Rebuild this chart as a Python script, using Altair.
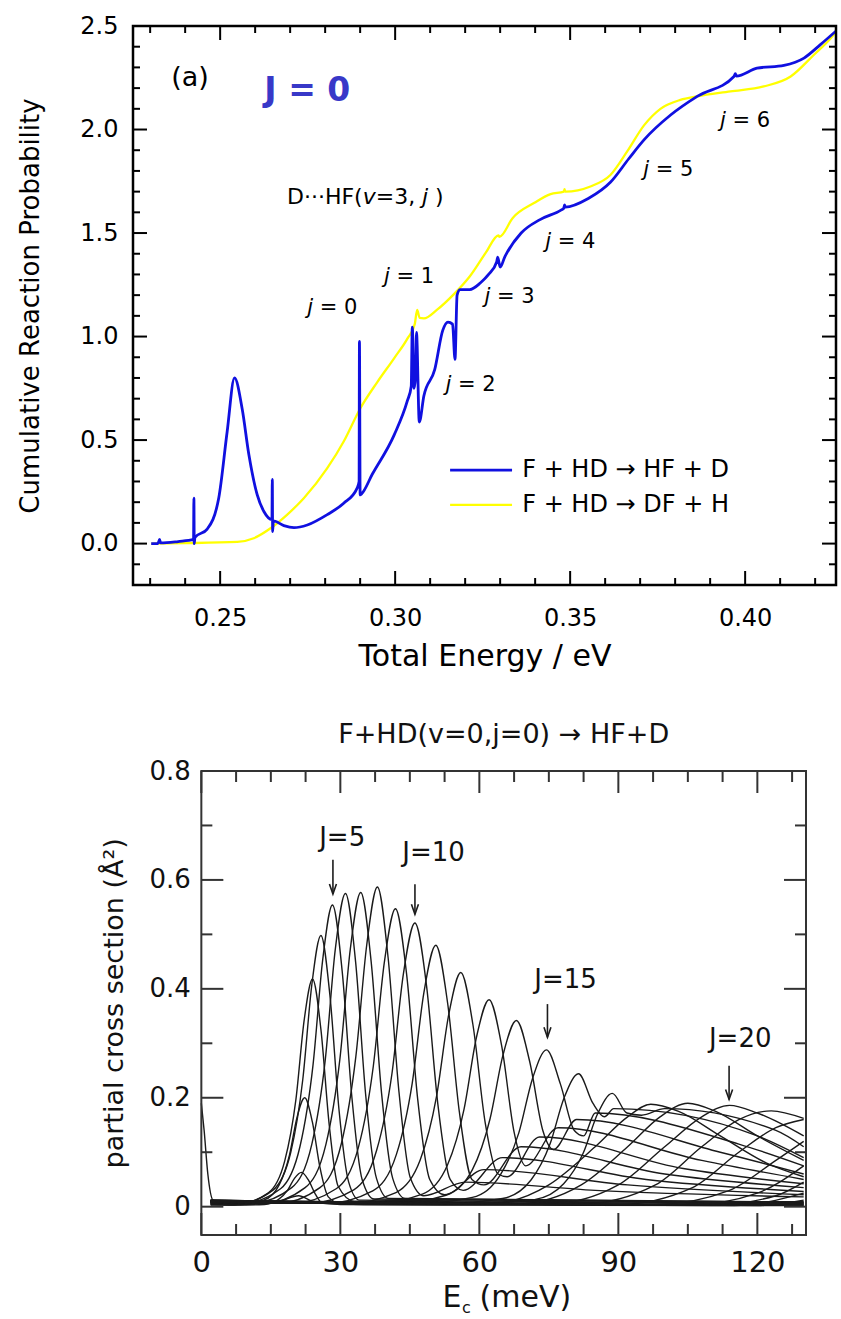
import altair as alt
import pandas as pd

FONT = "DejaVu Sans"

# ---------------- Panel (a): cumulative reaction probability, J = 0 ----------------
blue_E = [0.2303, 0.2322, 0.2327, 0.2330, 0.2380, 0.2424, 0.2425, 0.2426, 0.2428, 0.2463,
          0.2496, 0.2520, 0.2541, 0.2563, 0.2582, 0.2606, 0.2625, 0.2648, 0.2649, 0.2650,
          0.2652, 0.2682, 0.2711, 0.2749, 0.2806, 0.2853, 0.2891, 0.2897, 0.2898, 0.2900,
          0.2904, 0.2935, 0.2997, 0.3035, 0.3046, 0.3049, 0.3054, 0.3058, 0.3061, 0.3069,
          0.3082, 0.3113, 0.3136, 0.3151, 0.3164, 0.3171, 0.3177, 0.3185, 0.3213, 0.3244,
          0.3267, 0.3290, 0.3293, 0.3300, 0.3313, 0.3360, 0.3414, 0.3475, 0.3482, 0.3484,
          0.3486, 0.3553, 0.3615, 0.3668, 0.3711, 0.3787, 0.3863, 0.3968, 0.3972, 0.3975,
          0.4034, 0.4111, 0.4168, 0.4215, 0.4259]
blue_P = [0.0, 0.0, 0.02, 0.003, 0.01, 0.02, 0.22, 0.0, 0.03, 0.07,
          0.22, 0.54, 0.80, 0.65, 0.43, 0.235, 0.155, 0.116, 0.31, 0.058,
          0.11, 0.087, 0.077, 0.09, 0.14, 0.195, 0.267, 0.30, 0.976, 0.235,
          0.24, 0.336, 0.524, 0.69, 0.76, 1.045, 0.75, 0.80, 1.02, 0.587,
          0.713, 0.84, 1.03, 1.07, 1.06, 0.89, 1.20, 1.227, 1.227, 1.26,
          1.30, 1.36, 1.384, 1.335, 1.384, 1.50, 1.565, 1.612, 1.62, 1.636,
          1.625, 1.668, 1.745, 1.86, 1.95, 2.07, 2.16, 2.256, 2.27, 2.258,
          2.296, 2.31, 2.345, 2.41, 2.475]

yellow_E = [0.2303, 0.2400, 0.2549, 0.2596, 0.2644, 0.2691, 0.2739, 0.2806, 0.2853, 0.2901,
            0.2949, 0.2997, 0.3035, 0.3056, 0.3063, 0.3070, 0.3082, 0.3120, 0.3168, 0.3213,
            0.3259, 0.3295, 0.3298, 0.3336, 0.3398, 0.3444, 0.3482, 0.3484, 0.3486, 0.3558,
            0.3615, 0.3663, 0.3711, 0.3758, 0.3815, 0.3863, 0.3958, 0.4053, 0.4130, 0.4196,
            0.4244, 0.4259]
yellow_P = [0.0, 0.002, 0.008, 0.026, 0.074, 0.139, 0.219, 0.364, 0.493, 0.655,
            0.78, 0.895, 0.99, 1.06, 1.129, 1.09, 1.088, 1.13, 1.205, 1.29,
            1.405, 1.488, 1.482, 1.573, 1.646, 1.688, 1.70, 1.712, 1.70, 1.725,
            1.78, 1.894, 2.02, 2.10, 2.143, 2.16, 2.184, 2.208, 2.256, 2.36,
            2.44, 2.47]

legend_labels = ["F + HD \u2192 HF + D", "F + HD \u2192 DF + H"]
legend_colors = ["#1010e0", "#ffff00"]

j_label_x = [0.2749, 0.2968, 0.3144, 0.3255, 0.3429, 0.3709, 0.3928]
j_label_y = [1.137, 1.290, 0.767, 1.193, 1.459, 1.805, 2.039]
j_label_n = ["= 0", "= 1", "= 2", "= 3", "= 4", "= 5", "= 6"]

top_x_major = [0.25, 0.30, 0.35, 0.40]
top_x_minor = [0.23, 0.24, 0.26, 0.27, 0.28, 0.29, 0.31, 0.32, 0.33, 0.34,
               0.36, 0.37, 0.38, 0.39, 0.41, 0.42]
top_y_major = [0.0, 0.5, 1.0, 1.5, 2.0, 2.5]
top_y_minor = [-0.1, 0.1, 0.2, 0.3, 0.4, 0.6, 0.7, 0.8, 0.9, 1.1, 1.2, 1.3, 1.4,
               1.6, 1.7, 1.8, 1.9, 2.1, 2.2, 2.3, 2.4]

# ---------------- Panel (b): partial cross sections for each J ----------------
pcs_J0 = [(0.0, 0.19), (0.6, 0.14), (1.4, 0.06), (2.5, 0.012), (5, 0.004), (12, 0.005),
          (17, 0.01), (21, 0.02), (24, 0.01), (30, 0.004), (60, 0.003), (130, 0.002)]
pcs_J1 = [(2, 0.003), (7.6, 0.003), (13.6, 0.004), (16.6, 0.013), (18.6, 0.03), (20.1, 0.052),
          (21.6, 0.063), (23.1, 0.049), (24.6, 0.023), (26.2, 0.006), (35, 0.004), (130, 0.003)]
pcs_J2 = [(2, 0.005), (7.0, 0.003), (13.5, 0.012), (16.8, 0.04), (19.0, 0.094), (20.65, 0.164),
          (22.3, 0.20), (23.95, 0.156), (25.6, 0.072), (27.4, 0.018), (30, 0.006), (130, 0.004)]
pcs_J3 = [(2, 0.004), (7.2, 0.004), (14.4, 0.025), (18.0, 0.084), (20.4, 0.196), (22.2, 0.343),
          (24.0, 0.418), (25.8, 0.326), (27.6, 0.15), (29.5, 0.038), (33, 0.01), (130, 0.005)]
pcs_J4 = [(2, 0.006), (7.6, 0.005), (15.4, 0.03), (19.3, 0.10), (21.9, 0.234), (23.85, 0.408),
          (25.8, 0.498), (27.75, 0.388), (29.7, 0.179), (31.8, 0.045), (34.1, 0.012), (130, 0.006)]
pcs_J5 = [(2, 0.008), (8.7, 0.006), (17.1, 0.033), (21.3, 0.111), (24.1, 0.26), (26.2, 0.454),
          (28.3, 0.554), (30.4, 0.432), (32.5, 0.2), (34.7, 0.05), (37.3, 0.014), (130, 0.007)]
pcs_J6 = [(2, 0.005), (10.8, 0.006), (19.5, 0.035), (23.85, 0.115), (26.75, 0.27), (28.9, 0.472),
          (31.1, 0.575), (33.3, 0.449), (35.45, 0.207), (37.8, 0.052), (40.4, 0.015), (130, 0.008)]
pcs_J7 = [(2, 0.007), (13.4, 0.006), (22.4, 0.035), (26.9, 0.115), (29.9, 0.271), (32.15, 0.473),
          (34.4, 0.577), (36.65, 0.45), (38.9, 0.208), (41.3, 0.052), (44.0, 0.015), (130, 0.009)]
pcs_J8 = [(2, 0.009), (16.3, 0.006), (25.6, 0.035), (30.25, 0.117), (33.35, 0.276), (35.7, 0.481),
          (38.0, 0.587), (40.3, 0.458), (42.65, 0.211), (45.1, 0.053), (48.0, 0.02), (57, 0.045),
          (85, 0.03), (130, 0.018)]
pcs_J9 = [(2, 0.006), (19.5, 0.006), (29.1, 0.033), (33.9, 0.109), (37.1, 0.257), (39.5, 0.449),
          (41.9, 0.547), (44.3, 0.427), (46.7, 0.197), (49.3, 0.05), (52.5, 0.022), (61, 0.068),
          (92, 0.04), (130, 0.022)]
pcs_J10 = [(2, 0.01), (23.0, 0.006), (32.9, 0.031), (37.85, 0.104), (41.15, 0.245), (43.6, 0.427),
           (46.1, 0.521), (48.6, 0.406), (51.05, 0.188), (53.7, 0.05), (56.5, 0.03), (65, 0.09),
           (96, 0.05), (130, 0.028)]
pcs_J11 = [(2, 0.008), (26.8, 0.006), (37.0, 0.029), (42.1, 0.096), (45.5, 0.226), (48.05, 0.394),
           (50.6, 0.48), (53.15, 0.374), (55.7, 0.173), (58.4, 0.05), (61, 0.04), (69, 0.11),
           (100, 0.06), (130, 0.035)]
pcs_J12 = [(2, 0.011), (31.5, 0.006), (42.0, 0.026), (47.25, 0.086), (50.75, 0.202), (53.4, 0.353),
           (56.0, 0.43), (58.6, 0.335), (61.25, 0.155), (64.05, 0.06), (66, 0.055), (73, 0.128),
           (104, 0.07), (130, 0.042)]
pcs_J13 = [(2, 0.007), (36.9, 0.006), (47.7, 0.023), (53.1, 0.076), (56.7, 0.179), (59.4, 0.312),
           (62.1, 0.38), (64.8, 0.296), (67.5, 0.137), (70.0, 0.075), (77, 0.145), (108, 0.085),
           (130, 0.05)]
pcs_J14 = [(2, 0.012), (41.4, 0.006), (52.8, 0.021), (58.5, 0.068), (62.3, 0.161), (65.15, 0.28),
           (68.0, 0.342), (70.85, 0.267), (73.7, 0.14), (76.0, 0.105), (81, 0.16), (112, 0.1),
           (130, 0.06)]
pcs_J15 = [(2, 0.009), (46.5, 0.006), (58.5, 0.017), (64.5, 0.058), (68.5, 0.135), (71.5, 0.236),
           (74.5, 0.288), (77.5, 0.225), (80.5, 0.14), (82.5, 0.13), (85, 0.172), (116, 0.115),
           (130, 0.075)]
pcs_J16 = [(2, 0.01), (52.7, 0.006), (65.0, 0.015), (71.15, 0.049), (75.25, 0.115), (78.3, 0.2),
           (81.4, 0.244), (84.5, 0.19), (87.0, 0.165), (89, 0.18), (120, 0.13), (130, 0.09)]
pcs_J17 = [(2, 0.008), (59.3, 0.006), (71.9, 0.013), (78.2, 0.042), (82.4, 0.098), (85.55, 0.171),
           (88.7, 0.208), (91.85, 0.172), (95, 0.168), (100, 0.18), (124, 0.14), (130, 0.11)]
pcs_J18 = [(2, 0.011), (62, 0.005), (75, 0.04), (85, 0.11), (92, 0.165), (97, 0.188),
           (103, 0.175), (112, 0.13), (122, 0.08), (130, 0.055)]
pcs_J19 = [(2, 0.012), (68, 0.005), (82, 0.04), (92, 0.11), (99, 0.165), (105, 0.19),
           (111, 0.175), (120, 0.13), (130, 0.085)]
pcs_J20 = [(2, 0.009), (75, 0.005), (90, 0.04), (100, 0.11), (108, 0.165), (114, 0.186),
           (120, 0.172), (130, 0.13)]
pcs_J21 = [(2, 0.01), (82, 0.005), (98, 0.04), (108, 0.11), (116, 0.16), (123, 0.176),
           (130, 0.162)]
pcs_J22 = [(2, 0.012), (90, 0.004), (106, 0.035), (116, 0.1), (124, 0.145), (130, 0.16)]
pcs_J23 = [(2, 0.011), (98, 0.004), (114, 0.03), (124, 0.085), (130, 0.12)]
pcs_J24 = [(2, 0.008), (105, 0.003), (120, 0.025), (130, 0.075)]
pcs_J25 = [(2, 0.01), (110, 0.003), (124, 0.02), (130, 0.045)]
pcs_J26 = [(2, 0.012), (115, 0.002), (130, 0.025)]
pcs_J27 = [(2, 0.009), (120, 0.002), (130, 0.012)]

pcs_curves = [pcs_J0, pcs_J1, pcs_J2, pcs_J3, pcs_J4, pcs_J5, pcs_J6, pcs_J7, pcs_J8, pcs_J9,
              pcs_J10, pcs_J11, pcs_J12, pcs_J13, pcs_J14, pcs_J15, pcs_J16, pcs_J17, pcs_J18,
              pcs_J19, pcs_J20, pcs_J21, pcs_J22, pcs_J23, pcs_J24, pcs_J25, pcs_J26, pcs_J27]

arrow_labels = ["J=5", "J=10", "J=15", "J=20"]
arrow_label_x = [30.4, 50.1, 78.6, 116.3]
arrow_label_y = [0.677, 0.650, 0.416, 0.307]
arrow_x = [28.4, 46.1, 74.7, 113.9]
arrow_top = [0.637, 0.592, 0.372, 0.259]
arrow_tip = [0.574, 0.537, 0.311, 0.197]

bot_x_major = [0, 30, 60, 90, 120]
bot_x_minor = [7.5, 15, 22.5, 37.5, 45, 52.5, 67.5, 75, 82.5, 97.5, 105, 112.5, 127.5]
bot_y_major = [0.0, 0.2, 0.4, 0.6, 0.8]
bot_y_minor = [0.1, 0.3, 0.5, 0.7]


# ---------------- helpers ----------------
def make_xy(xscale, yscale, xaxis, yaxis):
    def qx(field):
        return alt.X(field, type="quantitative", scale=xscale, axis=xaxis)

    def qy(field):
        return alt.Y(field, type="quantitative", scale=yscale, axis=yaxis)
    return qx, qy


def tick_layers(qx, qy, W, H, xl, xmaj, xmin, ymaj, ymin, lmaj, lmin, color, sw):
    out = []
    for vals, L in ((xmaj, lmaj), (xmin, lmin)):
        b = alt.Chart(pd.DataFrame({"v": vals})).mark_rule(color=color, strokeWidth=sw)
        out.append(b.encode(x=qx("v"), y=alt.value(H - L), y2=alt.value(H)))
        out.append(b.encode(x=qx("v"), y=alt.value(0), y2=alt.value(L)))
    for vals, L in ((ymaj, lmaj), (ymin, lmin)):
        b = alt.Chart(pd.DataFrame({"v": vals})).mark_rule(color=color, strokeWidth=sw)
        out.append(b.encode(y=qy("v"), x=alt.value(xl), x2=alt.value(xl + L)))
        out.append(b.encode(y=qy("v"), x=alt.value(W - L), x2=alt.value(W)))
    return out


def text_layer(qx, qy, x, y, t, **kw):
    df = pd.DataFrame({"x": x, "y": y, "t": t})
    return alt.Chart(df).mark_text(font=FONT, **kw).encode(x=qx("x"), y=qy("y"), text="t:N")


# ---------------- top panel ----------------
TW, TH = 703, 559
TXD = [0.2251, 0.42596]
TYD = [-0.2, 2.5]
tx = alt.Scale(domain=TXD, nice=False, zero=False)
ty = alt.Scale(domain=TYD, nice=False, zero=False)

top_x_axis = alt.Axis(values=top_x_major, format=".2f", title="Total Energy / eV",
                      labelFont=FONT, labelFontSize=24, labelColor="black", labelPadding=21,
                      ticks=False, tickSize=0, domain=False, grid=False,
                      titleFont=FONT, titleFontSize=30, titleFontWeight="normal",
                      titleColor="black", titlePadding=11)
top_y_axis = alt.Axis(values=top_y_major, format=".1f", title="Cumulative Reaction Probability",
                      labelFont=FONT, labelFontSize=24, labelColor="black", labelPadding=15,
                      ticks=False, tickSize=0, domain=False, grid=False,
                      titleFont=FONT, titleFontSize=26, titleFontWeight="normal",
                      titleColor="black", titlePadding=36)
tqx, tqy = make_xy(tx, ty, top_x_axis, top_y_axis)

yellow_df = pd.DataFrame({"E": yellow_E, "P": yellow_P})
blue_df = pd.DataFrame({"E": blue_E, "P": blue_P})

yellow_line = alt.Chart(yellow_df).mark_line(
    color=legend_colors[1], strokeWidth=2.3, interpolate="monotone", clip=True).encode(
    x=tqx("E"), y=tqy("P"))
blue_line = alt.Chart(blue_df).mark_line(
    color=legend_colors[0], strokeWidth=2.8, interpolate="monotone", clip=True).encode(
    x=tqx("E"), y=tqy("P"))

top_frame = alt.Chart(pd.DataFrame({"x1": [TXD[0]], "x2": [TXD[1]], "y1": [TYD[0]], "y2": [TYD[1]]})
                      ).mark_rect(filled=False, color="black", strokeWidth=2.5).encode(
    x=tqx("x1"), x2="x2", y=tqy("y1"), y2="y2")

top_ticks = tick_layers(tqx, tqy, TW, TH, 0, top_x_major, top_x_minor, top_y_major, top_y_minor,
                        14, 7, "black", 2)

t_a = text_layer(tqx, tqy, [0.2414], [2.25], ["(a)"], fontSize=27, align="center",
                 baseline="middle")
t_J0 = text_layer(tqx, tqy, [0.2749], [2.188], ["J = 0"], fontSize=33, fontWeight="bold",
                  color="#3838c8", align="center", baseline="middle")

dhf_pieces = [("D\u00b7\u00b7\u00b7HF(", "normal", 0.0), ("v", "italic", 75.7),
              ("=3,", "normal", 88.7), ("j", "italic", 135.1), (")", "normal", 148.0)]
dhf_layers = [text_layer(tqx, tqy, [0.2691], [1.676], [s], fontSize=22, fontStyle=st, dx=off,
                         align="left", baseline="middle") for s, st, off in dhf_pieces]

jdf = pd.DataFrame({"x": j_label_x, "y": j_label_y, "t": j_label_n})
j_italic = alt.Chart(jdf).mark_text(font=FONT, fontSize=21, fontStyle="italic", align="left",
                                    baseline="middle").encode(
    x=tqx("x"), y=tqy("y"), text=alt.value("j"))
j_rest = alt.Chart(jdf).mark_text(font=FONT, fontSize=21, align="left", baseline="middle",
                                  dx=12.5).encode(x=tqx("x"), y=tqy("y"), text="t:N")

leg_df = pd.DataFrame({"x1": [0.3157, 0.3157], "x2": [0.3334, 0.3334], "y": [0.355, 0.187],
                       "xt": [0.3363, 0.3363], "t": legend_labels, "c": legend_colors,
                       "w": [2.8, 2.3]})
leg_rules = alt.Chart(leg_df).mark_rule().encode(
    x=tqx("x1"), x2="x2", y=tqy("y"),
    color=alt.Color("c:N", scale=None), strokeWidth=alt.StrokeWidth("w:Q", scale=None))
leg_text = alt.Chart(leg_df).mark_text(font=FONT, fontSize=24, align="left", baseline="middle"
                                       ).encode(x=tqx("xt"), y=tqy("y"), text="t:N")

top_chart = alt.layer(yellow_line, blue_line, top_frame, *top_ticks, t_a, t_J0, *dhf_layers,
                      j_italic, j_rest, leg_rules, leg_text).properties(width=TW, height=TH)

# ---------------- bottom panel ----------------
BW, BH = 673, 464
BXD = [-14.75, 130.5]
BYD = [-0.052, 0.8]
bx = alt.Scale(domain=BXD, nice=False, zero=False)
by = alt.Scale(domain=BYD, nice=False, zero=False)
X0PX = 14.75 * BW / (BXD[1] - BXD[0])  # pixel of E = 0 inside the plot

rows = [{"J": j, "E": e, "s": s} for j, c in enumerate(pcs_curves) for e, s in c]
pcs_df = pd.DataFrame(rows)

bot_x_axis = alt.Axis(values=bot_x_major, format="d", title=None, labelFont=FONT,
                      labelFontSize=29, labelColor="#111111", labelPadding=13,
                      ticks=False, tickSize=0, domain=False, grid=False)
bot_y_axis = alt.Axis(values=bot_y_major, format=".1~f", title=None, labelFont=FONT,
                      labelFontSize=26, labelColor="#111111", labelPadding=11, offset=-X0PX,
                      ticks=False, tickSize=0, domain=False, grid=False)
bqx, bqy = make_xy(bx, by, bot_x_axis, bot_y_axis)

pcs_lines = alt.Chart(pcs_df).mark_line(color="#1a1a1a", strokeWidth=1.4,
                                        interpolate="monotone", clip=True).encode(
    x=bqx("E"), y=bqy("s"), detail="J:N")

bot_frame = alt.Chart(pd.DataFrame({"x1": [0.0], "x2": [BXD[1]], "y1": [BYD[0]], "y2": [BYD[1]]})
                      ).mark_rect(filled=False, color="#333333", strokeWidth=2).encode(
    x=bqx("x1"), x2="x2", y=bqy("y1"), y2="y2")

bot_ticks = tick_layers(bqx, bqy, BW, BH, X0PX, bot_x_major, bot_x_minor, bot_y_major,
                        bot_y_minor, 22, 11, "#333333", 2)

arr_df = pd.DataFrame({"x": arrow_x, "y1": arrow_top, "y2": arrow_tip,
                       "lx": arrow_label_x, "ly": arrow_label_y, "t": arrow_labels})
arr_rules = alt.Chart(arr_df).mark_rule(color="#1c1c1c", strokeWidth=1.6).encode(
    x=bqx("x"), y=bqy("y1"), y2="y2")
arr_heads = alt.Chart(arr_df).mark_point(shape="M-0.35,-1L0,0L0.35,-1", filled=False,
                                         color="#1c1c1c", strokeWidth=1.6, size=400,
                                         opacity=1).encode(x=bqx("x"), y=bqy("y2"))
arr_text = alt.Chart(arr_df).mark_text(font=FONT, fontSize=26, align="center",
                                       baseline="middle", color="#111111").encode(
    x=bqx("lx"), y=bqy("ly"), text="t:N")

b_title = text_layer(bqx, bqy, [65.25], [0.8657], ["F+HD(v=0,j=0) \u2192 HF+D"], fontSize=27,
                     align="center", baseline="middle", color="#111111")
b_ytitle = text_layer(bqx, bqy, [-18.6], [0.3735], ["partial cross section (\u00c5\u00b2)"],
                      fontSize=27, angle=270, align="center", baseline="middle", color="#111111")
b_xt_E = text_layer(bqx, bqy, [52.06], [-0.1674], ["E"], fontSize=30, align="left",
                    baseline="middle", color="#111111")
b_xt_c = text_layer(bqx, bqy, [52.06], [-0.1674], ["c"], fontSize=16, align="left",
                    baseline="middle", dx=19.5, dy=10, color="#111111")
b_xt_rest = text_layer(bqx, bqy, [52.06], [-0.1674], ["(meV)"], fontSize=30, align="left",
                       baseline="middle", dx=37, color="#111111")

bottom_chart = alt.layer(pcs_lines, bot_frame, *bot_ticks, arr_rules, arr_heads, arr_text,
                         b_title, b_ytitle, b_xt_E, b_xt_c, b_xt_rest
                         ).properties(width=BW, height=BH)

chart = alt.vconcat(top_chart, bottom_chart, spacing=48).properties(
    padding={"left": 17, "top": 13, "right": 0, "bottom": 0}
).configure_view(stroke="transparent")

chart.save("out.html", embed_options={"renderer": "svg", "actions": False})
